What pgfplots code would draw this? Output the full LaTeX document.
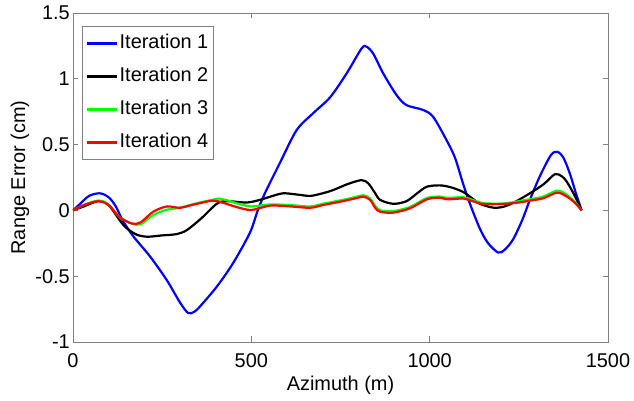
\documentclass[border=0pt]{standalone}
\usepackage{fontspec}
\setmainfont{Liberation Sans}
\usepackage{pgfplots}
\pgfplotsset{compat=1.18}
\definecolor{mblue}{RGB}{0,0,255}
\definecolor{mgreen}{RGB}{0,255,0}
\definecolor{mred}{RGB}{255,0,0}
\begin{document}
\fontsize{20}{24}\selectfont
\begin{tikzpicture}
\begin{axis}[
  scale only axis, width=535bp, height=329bp,
  xmin=0, xmax=1500, ymin=-1, ymax=1.5,
  xtick={0,500,1000,1500}, xticklabels={0,500,1000,1500},
  ytick={-1,-0.5,0,0.5,1,1.5}, yticklabels={-1,-0.5,0,0.5,1,1.5},
  tick align=inside, major tick length=5.5bp,
  axis line style={black!50, line width=0.8bp}, tick style={black!50, line width=0.8bp},
  /pgf/number format/assume math mode=true,
  ticklabel style={font=\fontsize{20}{24}\selectfont},
  xticklabel style={inner sep=0pt, yshift=-11bp},
  yticklabel style={inner sep=0pt, xshift=-3bp},
  xlabel={Azimuth (m)}, ylabel={Range Error (cm)},
  label style={font=\fontsize{20}{24}\selectfont},
  xlabel style={at={(axis description cs:0.5,-0.1307)}, anchor=center},
  ylabel style={at={(axis description cs:-0.099,0.5)}, anchor=center},
  legend image code/.code={\draw[#1] (0bp,0bp) -- (30bp,0bp);},
  legend cell align=left,
  legend style={at={(0.017,0.96)}, anchor=north west, draw=black!50, line width=0.8bp, fill=white,
    inner xsep=3bp, inner ysep=6bp, row sep=11bp, column sep=0bp,
    font=\fontsize{20}{24}\selectfont,
    nodes={inner sep=2bp, text height=14bp, text depth=4bp}},
  every axis plot/.append style={line width=2.2bp, smooth},
]
\addplot[mblue] coordinates {
(0,0) (20,0.05) (45,0.11) (75,0.13) (100,0.10) (120,0.03) (140,-0.08) (170,-0.2)
(216,-0.35) (263,-0.53) (300,-0.7) (323,-0.78) (340,-0.77) (356,-0.73) (403,-0.58)
(449,-0.40) (496,-0.17) (518,0.0) (538,0.13) (580,0.36) (627,0.61) (674,0.74)
(721,0.86) (767,1.04) (809,1.23) (823,1.244) (842,1.19) (870,1.04) (907,0.877)
(935,0.8) (982,0.763) (1010,0.71) (1048,0.53) (1071,0.40) (1094,0.2) (1113,0.05)
(1141,-0.14) (1164,-0.25) (1192,-0.32) (1210,-0.30) (1234,-0.22) (1260,-0.07)
(1281,0.08) (1309,0.26) (1340,0.42) (1358,0.445) (1375,0.40) (1393,0.28)
(1410,0.13) (1426,0.0)
};
\addlegendentry{Iteration 1\hspace{5bp}}
\addplot[black] coordinates {
(0,0) (30,0.03) (71,0.07) (100,0.04) (141,-0.11) (175,-0.18) (207,-0.20) (250,-0.19)
(291,-0.18) (319,-0.15) (360,-0.06) (403,0.05) (431,0.07) (487,0.06) (524,0.08)
(560,0.11) (590,0.13) (630,0.12) (665,0.11) (700,0.13) (730,0.155) (770,0.2)
(809,0.23) (828,0.205) (845,0.14) (861,0.08) (898,0.05) (935,0.07) (965,0.13)
(992,0.18) (1029,0.19) (1060,0.175) (1094,0.14) (1120,0.09) (1141,0.05)
(1170,0.025) (1188,0.02) (1210,0.03) (1240,0.065) (1281,0.13) (1320,0.2)
(1351,0.275) (1370,0.26) (1384,0.22) (1405,0.12) (1426,0.0)
};
\addlegendentry{Iteration 2\hspace{5bp}}
\addplot[mgreen] coordinates {
(0,0) (30,0.04) (71,0.075) (100,0.045) (130,-0.05) (165,-0.1) (190,-0.105)
(225,-0.035) (263,0.005) (300,0.02) (340,0.05) (393,0.082) (410,0.09) (440,0.07)
(459,0.054) (500,0.03) (552,0.045) (610,0.04) (665,0.03) (700,0.05) (749,0.076)
(790,0.1) (814,0.115) (833,0.09) (847,0.035) (861,0.0) (898,-0.005) (945,0.026)
(992,0.094) (1029,0.105) (1048,0.095) (1094,0.1) (1120,0.08) (1150,0.055)
(1206,0.052) (1250,0.07) (1281,0.085) (1318,0.105) (1356,0.15) (1375,0.135)
(1393,0.1) (1410,0.055) (1426,0.0)
};
\addlegendentry{Iteration 3\hspace{5bp}}
\addplot[mred] coordinates {
(0,0) (30,0.04) (71,0.07) (100,0.04) (130,-0.05) (165,-0.1) (190,-0.09) (225,-0.01)
(263,0.03) (300,0.02) (340,0.045) (393,0.074) (430,0.05) (459,0.025) (500,0.003)
(552,0.036) (610,0.03) (665,0.02) (700,0.04) (749,0.066) (790,0.09) (814,0.104)
(833,0.08) (847,0.02) (861,-0.01) (898,-0.017) (945,0.016) (992,0.084)
(1029,0.097) (1048,0.084) (1094,0.09) (1120,0.07) (1150,0.049) (1206,0.049)
(1250,0.06) (1281,0.074) (1318,0.092) (1356,0.135) (1375,0.12) (1393,0.09)
(1410,0.05) (1426,0.0)
};
\addlegendentry{Iteration 4\hspace{5bp}}
\end{axis}
\path ([shift={(-73bp,-56bp)}]current axis.south west) rectangle ([shift={(26bp,13bp)}]current axis.north east);
\end{tikzpicture}
\end{document}
